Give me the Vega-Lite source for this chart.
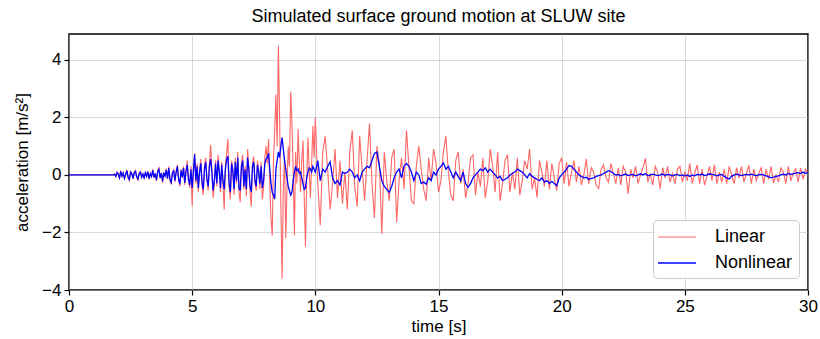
{
"$schema": "https://vega.github.io/schema/vega-lite/v6.json",
"width": 739, "height": 256,
"autosize": {"type": "none"},
"padding": {"left": 69, "top": 34, "right": 12, "bottom": 49},
"background": "white",
"title": {"text": "Simulated surface ground motion at SLUW site", "fontSize": 18, "font": "Liberation Sans", "fontWeight": "normal", "color": "black", "offset": 8},
"data": {"values": [
{"t":0,"Linear":0,"Nonlinear":0},{"t":1.8,"Linear":0,"Nonlinear":0},
{"t":1.85,"Linear":0.03,"Nonlinear":0.03},{"t":1.9,"Linear":-0.06,"Nonlinear":-0.05},{"t":1.95,"Linear":0.1,"Nonlinear":0.08},{"t":2.0,"Linear":0.04,"Nonlinear":0.03},{"t":2.05,"Linear":-0.12,"Nonlinear":-0.1},{"t":2.1,"Linear":0.15,"Nonlinear":0.12},{"t":2.15,"Linear":-0.05,"Nonlinear":-0.04},{"t":2.2,"Linear":0.08,"Nonlinear":0.06},{"t":2.25,"Linear":-0.14,"Nonlinear":-0.12},{"t":2.3,"Linear":0.02,"Nonlinear":0.02},{"t":2.35,"Linear":0.18,"Nonlinear":0.15},{"t":2.4,"Linear":-0.1,"Nonlinear":-0.08},{"t":2.45,"Linear":-0.2,"Nonlinear":-0.16},{"t":2.5,"Linear":0.12,"Nonlinear":0.1},{"t":2.55,"Linear":0.05,"Nonlinear":0.04},{"t":2.6,"Linear":-0.15,"Nonlinear":-0.12},{"t":2.65,"Linear":0.1,"Nonlinear":0.08},{"t":2.7,"Linear":0.16,"Nonlinear":0.12},{"t":2.75,"Linear":-0.08,"Nonlinear":-0.06},{"t":2.8,"Linear":-0.18,"Nonlinear":-0.14},{"t":2.85,"Linear":0.06,"Nonlinear":0.05},{"t":2.9,"Linear":0.12,"Nonlinear":0.1},{"t":2.95,"Linear":-0.1,"Nonlinear":-0.08},
{"t":3.0,"Linear":0.04,"Nonlinear":0.03},{"t":3.05,"Linear":-0.12,"Nonlinear":-0.1},{"t":3.1,"Linear":0.1,"Nonlinear":0.08},{"t":3.15,"Linear":-0.06,"Nonlinear":-0.05},{"t":3.2,"Linear":0.14,"Nonlinear":0.11},{"t":3.25,"Linear":-0.16,"Nonlinear":-0.13},{"t":3.3,"Linear":0.05,"Nonlinear":0.04},{"t":3.35,"Linear":-0.08,"Nonlinear":-0.06},{"t":3.4,"Linear":0.2,"Nonlinear":0.16},{"t":3.45,"Linear":-0.1,"Nonlinear":-0.08},{"t":3.5,"Linear":0.06,"Nonlinear":0.05},{"t":3.55,"Linear":-0.22,"Nonlinear":-0.18},{"t":3.6,"Linear":0.15,"Nonlinear":0.12},{"t":3.65,"Linear":0.25,"Nonlinear":0.2},{"t":3.7,"Linear":-0.12,"Nonlinear":-0.1},{"t":3.75,"Linear":0.08,"Nonlinear":0.06},{"t":3.8,"Linear":-0.28,"Nonlinear":-0.22},{"t":3.85,"Linear":0.1,"Nonlinear":0.08},{"t":3.9,"Linear":-0.05,"Nonlinear":-0.04},{"t":3.95,"Linear":0.22,"Nonlinear":0.18},
{"t":4.0,"Linear":-0.15,"Nonlinear":-0.12},{"t":4.05,"Linear":0.3,"Nonlinear":0.24},{"t":4.1,"Linear":-0.2,"Nonlinear":-0.16},{"t":4.15,"Linear":-0.32,"Nonlinear":-0.26},{"t":4.2,"Linear":0.1,"Nonlinear":0.08},{"t":4.25,"Linear":0.18,"Nonlinear":0.14},{"t":4.3,"Linear":-0.25,"Nonlinear":-0.2},{"t":4.35,"Linear":0.12,"Nonlinear":0.1},{"t":4.4,"Linear":0.35,"Nonlinear":0.3},{"t":4.45,"Linear":-0.18,"Nonlinear":-0.15},{"t":4.5,"Linear":-0.4,"Nonlinear":-0.32},{"t":4.55,"Linear":0.2,"Nonlinear":0.16},{"t":4.6,"Linear":-0.1,"Nonlinear":-0.08},{"t":4.65,"Linear":0.3,"Nonlinear":0.24},{"t":4.7,"Linear":-0.35,"Nonlinear":-0.28},{"t":4.75,"Linear":0.15,"Nonlinear":0.12},{"t":4.8,"Linear":0.5,"Nonlinear":0.35},{"t":4.85,"Linear":-0.2,"Nonlinear":-0.15},{"t":4.9,"Linear":-0.45,"Nonlinear":-0.35},{"t":4.95,"Linear":0.3,"Nonlinear":0.2},
{"t":5.0,"Linear":-1.1,"Nonlinear":-0.45},{"t":5.05,"Linear":0.2,"Nonlinear":0.1},{"t":5.1,"Linear":0.75,"Nonlinear":0.72},{"t":5.15,"Linear":-0.3,"Nonlinear":-0.2},{"t":5.2,"Linear":0.4,"Nonlinear":0.3},{"t":5.25,"Linear":-0.6,"Nonlinear":-0.45},{"t":5.3,"Linear":0.15,"Nonlinear":0.1},{"t":5.35,"Linear":0.55,"Nonlinear":0.4},{"t":5.4,"Linear":-0.35,"Nonlinear":-0.25},{"t":5.45,"Linear":-0.7,"Nonlinear":-0.5},{"t":5.5,"Linear":0.3,"Nonlinear":0.2},{"t":5.55,"Linear":0.6,"Nonlinear":0.45},{"t":5.6,"Linear":-0.2,"Nonlinear":-0.15},{"t":5.65,"Linear":-0.55,"Nonlinear":-0.4},{"t":5.7,"Linear":0.4,"Nonlinear":0.3},{"t":5.75,"Linear":1.05,"Nonlinear":0.55},{"t":5.8,"Linear":0.2,"Nonlinear":0.1},{"t":5.85,"Linear":-0.8,"Nonlinear":-0.55},{"t":5.9,"Linear":-0.3,"Nonlinear":-0.2},{"t":5.95,"Linear":0.5,"Nonlinear":0.4},
{"t":6.0,"Linear":-0.4,"Nonlinear":-0.3},{"t":6.05,"Linear":0.7,"Nonlinear":0.5},{"t":6.1,"Linear":0.2,"Nonlinear":0.1},{"t":6.15,"Linear":-0.6,"Nonlinear":-0.45},{"t":6.2,"Linear":0.45,"Nonlinear":0.35},{"t":6.25,"Linear":-0.3,"Nonlinear":-0.2},{"t":6.3,"Linear":-1.2,"Nonlinear":-0.5},{"t":6.35,"Linear":0.3,"Nonlinear":0.2},{"t":6.4,"Linear":0.8,"Nonlinear":0.55},{"t":6.45,"Linear":1.25,"Nonlinear":0.65},{"t":6.5,"Linear":-0.4,"Nonlinear":-0.3},{"t":6.55,"Linear":-0.85,"Nonlinear":-0.6},{"t":6.6,"Linear":0.5,"Nonlinear":0.4},{"t":6.65,"Linear":0.2,"Nonlinear":0.15},{"t":6.7,"Linear":-0.7,"Nonlinear":-0.5},{"t":6.75,"Linear":0.6,"Nonlinear":0.45},{"t":6.8,"Linear":-0.3,"Nonlinear":-0.2},{"t":6.85,"Linear":0.8,"Nonlinear":0.6},{"t":6.9,"Linear":-0.6,"Nonlinear":-0.45},{"t":6.95,"Linear":-0.95,"Nonlinear":-0.55},
{"t":7.0,"Linear":0.4,"Nonlinear":0.3},{"t":7.05,"Linear":0.7,"Nonlinear":0.5},{"t":7.1,"Linear":-0.5,"Nonlinear":-0.4},{"t":7.15,"Linear":0.3,"Nonlinear":0.2},{"t":7.2,"Linear":-0.75,"Nonlinear":-0.5},{"t":7.25,"Linear":0.9,"Nonlinear":0.6},{"t":7.3,"Linear":0.3,"Nonlinear":0.2},{"t":7.35,"Linear":-0.6,"Nonlinear":-0.4},{"t":7.4,"Linear":-1.1,"Nonlinear":-0.6},{"t":7.45,"Linear":0.4,"Nonlinear":0.3},{"t":7.5,"Linear":0.65,"Nonlinear":0.45},{"t":7.55,"Linear":-0.3,"Nonlinear":-0.2},{"t":7.6,"Linear":-0.55,"Nonlinear":-0.4},{"t":7.65,"Linear":0.5,"Nonlinear":0.35},{"t":7.7,"Linear":0.2,"Nonlinear":0.1},{"t":7.75,"Linear":-0.5,"Nonlinear":-0.3},{"t":7.8,"Linear":0.45,"Nonlinear":0.3},{"t":7.85,"Linear":-0.85,"Nonlinear":-0.45},{"t":7.9,"Linear":-0.4,"Nonlinear":-0.2},{"t":7.95,"Linear":0.6,"Nonlinear":0.4},
{"t":8.0,"Linear":1.0,"Nonlinear":0.55},{"t":8.05,"Linear":0.4,"Nonlinear":0.6},{"t":8.1,"Linear":1.25,"Nonlinear":0.75},{"t":8.15,"Linear":-0.3,"Nonlinear":0.2},{"t":8.2,"Linear":-1.5,"Nonlinear":-0.3},{"t":8.25,"Linear":-2.1,"Nonlinear":-0.6},{"t":8.3,"Linear":0.5,"Nonlinear":-0.7},{"t":8.35,"Linear":1.5,"Nonlinear":-0.84},{"t":8.4,"Linear":2.8,"Nonlinear":0.2},{"t":8.45,"Linear":1.0,"Nonlinear":0.5},{"t":8.5,"Linear":4.5,"Nonlinear":0.8},{"t":8.55,"Linear":2.0,"Nonlinear":0.6},{"t":8.6,"Linear":-1.0,"Nonlinear":1.0},{"t":8.65,"Linear":-3.6,"Nonlinear":1.3},{"t":8.7,"Linear":-0.5,"Nonlinear":0.9},{"t":8.75,"Linear":0.6,"Nonlinear":0.5},{"t":8.8,"Linear":-2.2,"Nonlinear":0.2},{"t":8.85,"Linear":-0.4,"Nonlinear":-0.1},{"t":8.9,"Linear":1.0,"Nonlinear":-0.4},{"t":8.95,"Linear":0.3,"Nonlinear":-0.55},
{"t":9.0,"Linear":2.9,"Nonlinear":-0.7},{"t":9.05,"Linear":1.8,"Nonlinear":-0.6},{"t":9.1,"Linear":0.2,"Nonlinear":-0.2},{"t":9.15,"Linear":-2.1,"Nonlinear":0.1},{"t":9.2,"Linear":0.8,"Nonlinear":0.3},{"t":9.25,"Linear":-0.3,"Nonlinear":0.15},{"t":9.3,"Linear":1.6,"Nonlinear":0.2},{"t":9.35,"Linear":0.4,"Nonlinear":0.05},{"t":9.4,"Linear":-0.6,"Nonlinear":0.1},{"t":9.45,"Linear":0.5,"Nonlinear":-0.1},{"t":9.5,"Linear":1.2,"Nonlinear":-0.3},{"t":9.55,"Linear":-0.8,"Nonlinear":-0.5},{"t":9.6,"Linear":-2.5,"Nonlinear":-0.45},{"t":9.65,"Linear":-0.2,"Nonlinear":-0.1},{"t":9.7,"Linear":1.3,"Nonlinear":0.1},{"t":9.75,"Linear":0.2,"Nonlinear":0.25},{"t":9.8,"Linear":-0.8,"Nonlinear":0.2},{"t":9.85,"Linear":0.4,"Nonlinear":0.1},{"t":9.9,"Linear":1.7,"Nonlinear":0.3},{"t":9.95,"Linear":0.6,"Nonlinear":0.2},
{"t":10.0,"Linear":2.0,"Nonlinear":0.1},{"t":10.1,"Linear":-0.3,"Nonlinear":0.5},{"t":10.2,"Linear":-1.75,"Nonlinear":-0.2},{"t":10.3,"Linear":0.8,"Nonlinear":0.2},{"t":10.4,"Linear":1.35,"Nonlinear":0.1},{"t":10.5,"Linear":0.2,"Nonlinear":0.3},{"t":10.6,"Linear":-1.2,"Nonlinear":0.45},{"t":10.7,"Linear":-0.3,"Nonlinear":-0.1},{"t":10.8,"Linear":0.9,"Nonlinear":-0.3},{"t":10.9,"Linear":-0.8,"Nonlinear":-0.2},
{"t":11.0,"Linear":0.5,"Nonlinear":-0.35},{"t":11.1,"Linear":-1.0,"Nonlinear":0.1},{"t":11.2,"Linear":0.1,"Nonlinear":0.05},{"t":11.3,"Linear":-1.2,"Nonlinear":0.1},{"t":11.4,"Linear":0.8,"Nonlinear":0.2},{"t":11.5,"Linear":1.55,"Nonlinear":0.1},{"t":11.6,"Linear":-0.4,"Nonlinear":-0.1},{"t":11.7,"Linear":-1.1,"Nonlinear":0.0},{"t":11.8,"Linear":1.35,"Nonlinear":-0.2},{"t":11.9,"Linear":0.2,"Nonlinear":0.1},
{"t":12.0,"Linear":-0.9,"Nonlinear":0.2},{"t":12.1,"Linear":0.5,"Nonlinear":0.3},{"t":12.2,"Linear":1.8,"Nonlinear":0.25},{"t":12.3,"Linear":-0.3,"Nonlinear":0.5},{"t":12.4,"Linear":-1.5,"Nonlinear":0.75},{"t":12.5,"Linear":1.0,"Nonlinear":0.8},{"t":12.6,"Linear":0.4,"Nonlinear":0.3},{"t":12.7,"Linear":-2.05,"Nonlinear":-0.2},{"t":12.8,"Linear":0.8,"Nonlinear":-0.4},{"t":12.9,"Linear":-0.2,"Nonlinear":-0.5},
{"t":13.0,"Linear":-0.9,"Nonlinear":-0.6},{"t":13.1,"Linear":0.6,"Nonlinear":-0.4},{"t":13.2,"Linear":0.9,"Nonlinear":-0.1},{"t":13.3,"Linear":-1.65,"Nonlinear":0.1},{"t":13.4,"Linear":-0.2,"Nonlinear":0.2},{"t":13.5,"Linear":0.6,"Nonlinear":-0.1},{"t":13.6,"Linear":-0.5,"Nonlinear":0.3},{"t":13.7,"Linear":1.55,"Nonlinear":0.4},{"t":13.8,"Linear":0.3,"Nonlinear":0.3},{"t":13.9,"Linear":-0.9,"Nonlinear":0.1},
{"t":14.0,"Linear":-1.0,"Nonlinear":-0.2},{"t":14.1,"Linear":0.3,"Nonlinear":0.1},{"t":14.2,"Linear":1.0,"Nonlinear":0.0},{"t":14.3,"Linear":0.2,"Nonlinear":-0.3},{"t":14.4,"Linear":-0.5,"Nonlinear":-0.25},{"t":14.5,"Linear":-0.9,"Nonlinear":-0.32},{"t":14.6,"Linear":0.6,"Nonlinear":-0.1},{"t":14.7,"Linear":-0.2,"Nonlinear":-0.2},{"t":14.8,"Linear":0.9,"Nonlinear":0.1},{"t":14.9,"Linear":0.4,"Nonlinear":0.0},
{"t":15.0,"Linear":-0.6,"Nonlinear":0.2},{"t":15.1,"Linear":-0.2,"Nonlinear":0.3},{"t":15.2,"Linear":0.8,"Nonlinear":0.42},{"t":15.3,"Linear":1.35,"Nonlinear":0.2},{"t":15.4,"Linear":0.1,"Nonlinear":0.3},{"t":15.5,"Linear":-0.7,"Nonlinear":0.1},{"t":15.6,"Linear":-0.9,"Nonlinear":-0.1},{"t":15.7,"Linear":0.5,"Nonlinear":0.1},{"t":15.8,"Linear":0.8,"Nonlinear":-0.05},{"t":15.9,"Linear":-0.3,"Nonlinear":-0.2},
{"t":16.0,"Linear":0.2,"Nonlinear":0.1},{"t":16.1,"Linear":-0.8,"Nonlinear":-0.3},{"t":16.2,"Linear":-0.3,"Nonlinear":-0.43},{"t":16.3,"Linear":0.6,"Nonlinear":-0.3},{"t":16.4,"Linear":0.7,"Nonlinear":-0.1},{"t":16.5,"Linear":-0.7,"Nonlinear":0.0},{"t":16.6,"Linear":0.1,"Nonlinear":0.1},{"t":16.7,"Linear":-0.4,"Nonlinear":0.2},{"t":16.8,"Linear":0.6,"Nonlinear":0.15},{"t":16.9,"Linear":-0.8,"Nonlinear":0.25},
{"t":17.0,"Linear":-0.2,"Nonlinear":0.1},{"t":17.1,"Linear":0.9,"Nonlinear":0.2},{"t":17.2,"Linear":0.3,"Nonlinear":0.1},{"t":17.3,"Linear":-0.6,"Nonlinear":0.0},{"t":17.4,"Linear":0.8,"Nonlinear":-0.1},{"t":17.5,"Linear":-0.9,"Nonlinear":-0.05},{"t":17.6,"Linear":-0.3,"Nonlinear":-0.2},{"t":17.7,"Linear":0.5,"Nonlinear":-0.15},{"t":17.8,"Linear":0.7,"Nonlinear":-0.1},{"t":17.9,"Linear":-0.6,"Nonlinear":0.0},
{"t":18.0,"Linear":0.1,"Nonlinear":0.05},{"t":18.1,"Linear":-0.5,"Nonlinear":0.1},{"t":18.2,"Linear":0.6,"Nonlinear":0.2},{"t":18.3,"Linear":-0.7,"Nonlinear":0.15},{"t":18.4,"Linear":-0.2,"Nonlinear":0.1},{"t":18.5,"Linear":0.5,"Nonlinear":0.0},{"t":18.6,"Linear":0.2,"Nonlinear":-0.1},{"t":18.7,"Linear":0.9,"Nonlinear":0.05},{"t":18.8,"Linear":-0.5,"Nonlinear":-0.05},{"t":18.9,"Linear":-0.1,"Nonlinear":-0.1},
{"t":19.0,"Linear":-0.78,"Nonlinear":-0.15},{"t":19.1,"Linear":0.5,"Nonlinear":-0.2},{"t":19.2,"Linear":0.1,"Nonlinear":-0.1},{"t":19.3,"Linear":-0.4,"Nonlinear":-0.25},{"t":19.4,"Linear":0.5,"Nonlinear":-0.2},{"t":19.5,"Linear":-0.5,"Nonlinear":-0.3},{"t":19.6,"Linear":0.4,"Nonlinear":-0.22},{"t":19.7,"Linear":-0.1,"Nonlinear":-0.3},{"t":19.8,"Linear":-0.55,"Nonlinear":-0.37},{"t":19.9,"Linear":0.4,"Nonlinear":-0.1},
{"t":20.0,"Linear":0.6,"Nonlinear":0.0},{"t":20.1,"Linear":-0.3,"Nonlinear":0.1},{"t":20.2,"Linear":0.45,"Nonlinear":0.2},{"t":20.3,"Linear":-0.4,"Nonlinear":0.33},{"t":20.4,"Linear":0.1,"Nonlinear":0.3},{"t":20.5,"Linear":0.5,"Nonlinear":0.2},{"t":20.6,"Linear":-0.25,"Nonlinear":0.1},{"t":20.7,"Linear":0.3,"Nonlinear":0.0},{"t":20.8,"Linear":-0.35,"Nonlinear":-0.05},{"t":20.9,"Linear":0.0,"Nonlinear":-0.1},
{"t":21.0,"Linear":0.56,"Nonlinear":-0.08},{"t":21.1,"Linear":-0.3,"Nonlinear":-0.16},{"t":21.2,"Linear":0.25,"Nonlinear":-0.12},{"t":21.3,"Linear":0.1,"Nonlinear":-0.1},{"t":21.4,"Linear":-0.35,"Nonlinear":-0.05},{"t":21.5,"Linear":-0.47,"Nonlinear":-0.02},{"t":21.6,"Linear":0.2,"Nonlinear":0.0},{"t":21.7,"Linear":0.35,"Nonlinear":0.05},{"t":21.8,"Linear":-0.1,"Nonlinear":0.1},{"t":21.9,"Linear":-0.25,"Nonlinear":0.15},
{"t":22.0,"Linear":0.4,"Nonlinear":0.12},{"t":22.1,"Linear":0.05,"Nonlinear":0.05},{"t":22.2,"Linear":-0.3,"Nonlinear":0.0},{"t":22.3,"Linear":0.25,"Nonlinear":0.02},{"t":22.4,"Linear":-0.35,"Nonlinear":-0.03},{"t":22.5,"Linear":0.3,"Nonlinear":0.0},{"t":22.6,"Linear":0.1,"Nonlinear":0.03},{"t":22.7,"Linear":-0.66,"Nonlinear":-0.02},{"t":22.8,"Linear":0.2,"Nonlinear":0.0},{"t":22.9,"Linear":-0.1,"Nonlinear":0.02},
{"t":23.0,"Linear":0.3,"Nonlinear":-0.03},{"t":23.1,"Linear":-0.3,"Nonlinear":0.0},{"t":23.2,"Linear":0.0,"Nonlinear":0.04},{"t":23.3,"Linear":0.25,"Nonlinear":0.0},{"t":23.4,"Linear":0.58,"Nonlinear":0.05},{"t":23.5,"Linear":-0.25,"Nonlinear":-0.03},{"t":23.6,"Linear":0.05,"Nonlinear":0.0},{"t":23.7,"Linear":-0.35,"Nonlinear":0.03},{"t":23.8,"Linear":0.3,"Nonlinear":0.0},{"t":23.9,"Linear":0.1,"Nonlinear":-0.02},
{"t":24.0,"Linear":-0.49,"Nonlinear":0.0},{"t":24.1,"Linear":0.25,"Nonlinear":0.03},{"t":24.2,"Linear":-0.1,"Nonlinear":-0.02},{"t":24.3,"Linear":0.3,"Nonlinear":0.02},{"t":24.4,"Linear":-0.25,"Nonlinear":0.0},{"t":24.5,"Linear":0.05,"Nonlinear":-0.03},{"t":24.6,"Linear":-0.3,"Nonlinear":0.0},{"t":24.7,"Linear":0.2,"Nonlinear":0.02},{"t":24.8,"Linear":0.3,"Nonlinear":-0.02},{"t":24.9,"Linear":-0.25,"Nonlinear":0.0},
{"t":25.0,"Linear":0.1,"Nonlinear":-0.04},{"t":25.1,"Linear":-0.2,"Nonlinear":0.0},{"t":25.2,"Linear":0.4,"Nonlinear":-0.05},{"t":25.3,"Linear":-0.3,"Nonlinear":0.0},{"t":25.4,"Linear":0.05,"Nonlinear":-0.03},{"t":25.5,"Linear":0.35,"Nonlinear":0.02},{"t":25.6,"Linear":-0.3,"Nonlinear":0.0},{"t":25.7,"Linear":0.2,"Nonlinear":0.03},{"t":25.8,"Linear":-0.35,"Nonlinear":-0.02},{"t":25.9,"Linear":-0.05,"Nonlinear":0.0},
{"t":26.0,"Linear":0.3,"Nonlinear":0.04},{"t":26.1,"Linear":-0.2,"Nonlinear":0.02},{"t":26.2,"Linear":0.35,"Nonlinear":0.0},{"t":26.3,"Linear":-0.3,"Nonlinear":-0.03},{"t":26.4,"Linear":0.1,"Nonlinear":0.0},{"t":26.5,"Linear":-0.25,"Nonlinear":0.02},{"t":26.6,"Linear":0.2,"Nonlinear":-0.05},{"t":26.7,"Linear":-0.3,"Nonlinear":-0.1},{"t":26.8,"Linear":0.3,"Nonlinear":-0.14},{"t":26.9,"Linear":0.0,"Nonlinear":-0.05},
{"t":27.0,"Linear":-0.3,"Nonlinear":0.0},{"t":27.1,"Linear":0.25,"Nonlinear":0.03},{"t":27.2,"Linear":-0.1,"Nonlinear":0.0},{"t":27.3,"Linear":0.3,"Nonlinear":-0.02},{"t":27.4,"Linear":-0.25,"Nonlinear":0.0},{"t":27.5,"Linear":0.05,"Nonlinear":0.02},{"t":27.6,"Linear":0.33,"Nonlinear":0.0},{"t":27.7,"Linear":-0.3,"Nonlinear":0.03},{"t":27.8,"Linear":0.2,"Nonlinear":0.0},{"t":27.9,"Linear":-0.2,"Nonlinear":-0.02},
{"t":28.0,"Linear":0.05,"Nonlinear":0.0},{"t":28.1,"Linear":0.25,"Nonlinear":0.02},{"t":28.2,"Linear":-0.3,"Nonlinear":0.0},{"t":28.3,"Linear":0.2,"Nonlinear":-0.03},{"t":28.4,"Linear":-0.15,"Nonlinear":-0.06},{"t":28.5,"Linear":0.3,"Nonlinear":-0.1},{"t":28.6,"Linear":-0.28,"Nonlinear":-0.08},{"t":28.7,"Linear":0.0,"Nonlinear":-0.05},{"t":28.8,"Linear":-0.25,"Nonlinear":-0.03},{"t":28.9,"Linear":0.25,"Nonlinear":0.0},
{"t":29.0,"Linear":0.1,"Nonlinear":0.03},{"t":29.1,"Linear":-0.3,"Nonlinear":0.0},{"t":29.2,"Linear":0.3,"Nonlinear":0.05},{"t":29.3,"Linear":-0.2,"Nonlinear":0.02},{"t":29.4,"Linear":0.05,"Nonlinear":0.04},{"t":29.5,"Linear":0.22,"Nonlinear":0.06},{"t":29.6,"Linear":-0.25,"Nonlinear":0.08},{"t":29.7,"Linear":0.25,"Nonlinear":0.05},{"t":29.8,"Linear":-0.15,"Nonlinear":0.1},{"t":29.9,"Linear":0.2,"Nonlinear":0.06},{"t":30.0,"Linear":0.05,"Nonlinear":0.08}
]},
"transform": [{"fold": ["Linear", "Nonlinear"], "as": ["series", "acc"]}],
"mark": {"type": "line", "clip": true},
"encoding": {
  "x": {"field": "t", "type": "quantitative", "scale": {"domain": [0, 30], "nice": false}, "axis": {"title": "time [s]", "values": [0, 5, 10, 15, 20, 25, 30], "labelFlush": false}},
  "y": {"field": "acc", "type": "quantitative", "scale": {"domain": [-4, 4.9], "nice": false, "zero": false}, "axis": {"title": "acceleration [m/s²]", "values": [-4, -2, 0, 2, 4], "titlePadding": 10}},
  "strokeWidth": {"field": "series", "type": "nominal", "scale": {"domain": ["Linear", "Nonlinear"], "range": [1.1, 1.3]}, "legend": null},
  "color": {"field": "series", "type": "nominal", "scale": {"domain": ["Linear", "Nonlinear"], "range": ["#ff6666", "#0000ff"]},
    "legend": {"title": null, "orient": "none", "legendX": 584, "legendY": 186, "direction": "vertical", "symbolType": "M-1.2,0H2.6", "symbolSize": 400, "symbolStrokeWidth": 1.2, "labelFontSize": 18, "labelFont": "Liberation Sans", "labelColor": "black", "labelOffset": 34, "rowPadding": 6, "padding": 6, "strokeColor": "#cccccc", "fillColor": "rgba(255,255,255,0.85)", "cornerRadius": 4}}
},
"config": {
  "view": {"stroke": "black", "strokeWidth": 1.5},
  "axis": {"domain": false, "ticks": true, "tickColor": "black", "tickSize": 5, "tickWidth": 1.2, "labelFont": "Liberation Sans", "labelFontSize": 17, "labelColor": "black", "titleFont": "Liberation Sans", "titleFontSize": 17, "titleFontWeight": "normal", "titleColor": "black", "gridColor": "#b0b0b0", "gridOpacity": 0.6, "gridWidth": 0.8, "labelPadding": 3}
}
}
